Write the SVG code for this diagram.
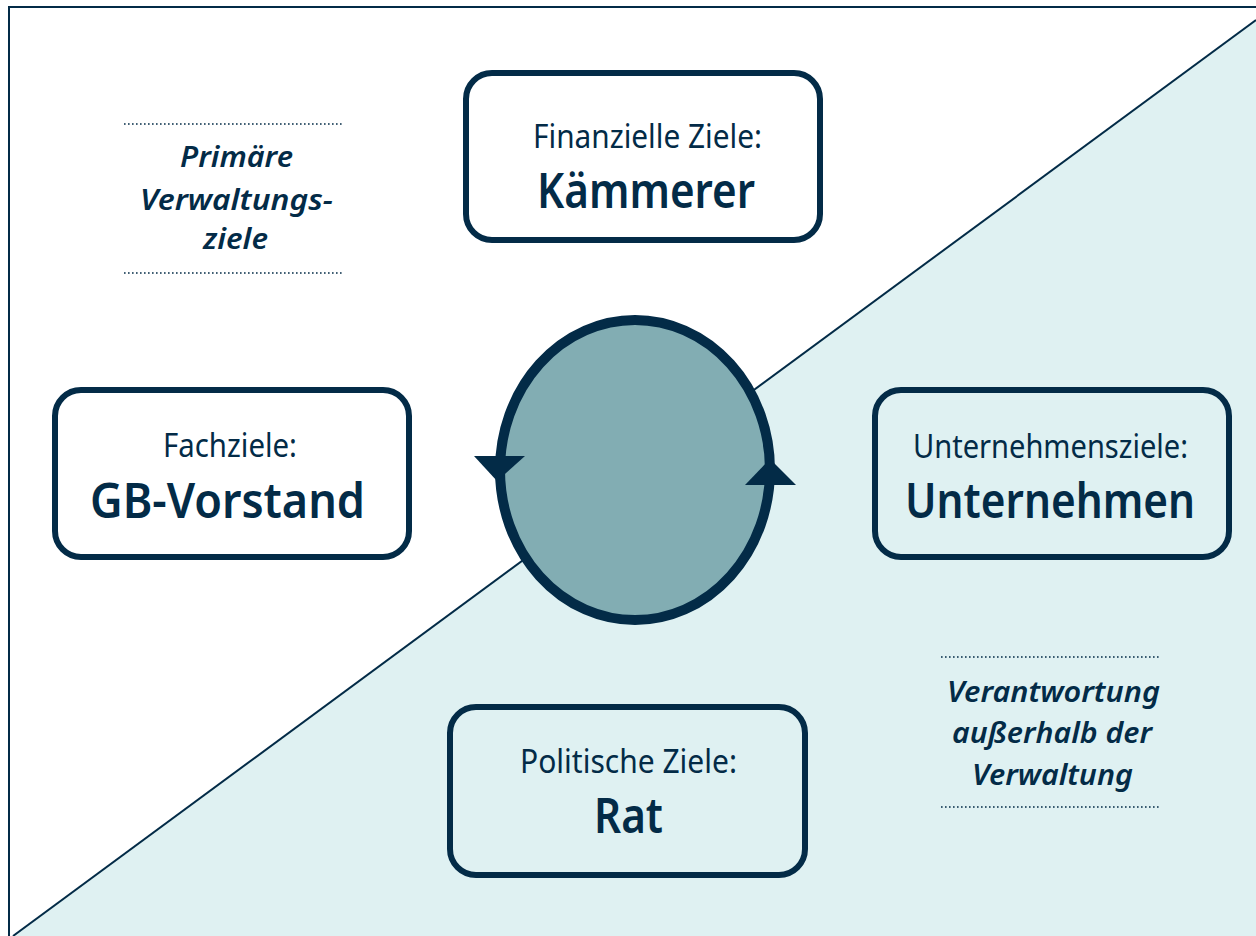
<svg xmlns="http://www.w3.org/2000/svg" width="1256" height="936" viewBox="0 0 1256 936">
  <style>
    .box { fill: none; stroke: #032b47; stroke-width: 6; }
    .sub { font-family: "Noto Sans", "Liberation Sans", sans-serif; font-size: 32px; fill: #032b47; text-anchor: middle; }
    .main { font-family: "Noto Sans", "Liberation Sans", sans-serif; font-size: 49px; font-weight: 600; fill: #032b47; text-anchor: middle; }
    .note { font-family: "Noto Sans", "Liberation Sans", sans-serif; font-size: 29px; font-weight: 600; font-style: italic; fill: #032b47; text-anchor: middle; }
    .dots { stroke: #032b47; stroke-width: 1.6; stroke-dasharray: 1.6 2.4; fill: none; }
  </style>

  <!-- background and split -->
  <rect x="0" y="0" width="1256" height="936" fill="#ffffff"/>
  <polygon points="1256,20 1256,936 13,936" fill="#dff1f2"/>
  <line x1="1256" y1="20" x2="13" y2="936" stroke="#032b47" stroke-width="2"/>
  <path d="M9,936 V7 H1256" fill="none" stroke="#032b47" stroke-width="2"/>

  <!-- area notes -->
  <g id="note-primary">
    <line class="dots" x1="124" y1="124" x2="342" y2="124"/>
    <text class="note" x="236.5" y="167" textLength="113" lengthAdjust="spacingAndGlyphs">Primäre</text>
    <text class="note" x="236.5" y="210" textLength="193" lengthAdjust="spacingAndGlyphs">Verwaltungs-</text>
    <text class="note" x="235.5" y="249" textLength="65" lengthAdjust="spacingAndGlyphs">ziele</text>
    <line class="dots" x1="124" y1="273" x2="342" y2="273"/>
  </g>
  <g id="note-external">
    <line class="dots" x1="941" y1="657" x2="1159" y2="657"/>
    <text class="note" x="1053.5" y="702" textLength="213" lengthAdjust="spacingAndGlyphs">Verantwortung</text>
    <text class="note" x="1052" y="743" textLength="200" lengthAdjust="spacingAndGlyphs">außerhalb der</text>
    <text class="note" x="1052.5" y="785" textLength="161" lengthAdjust="spacingAndGlyphs">Verwaltung</text>
    <line class="dots" x1="941" y1="807" x2="1159" y2="807"/>
  </g>

  <!-- central cycle -->
  <g id="connectors">
    <ellipse cx="635" cy="470" rx="135" ry="150" fill="#82adb3" stroke="#032b47" stroke-width="10"/>
    <polygon points="474,456 525,456 497,481" fill="#032b47"/>
    <polygon points="745,485 796,485 770,459" fill="#032b47"/>
  </g>

  <!-- nodes -->
  <g id="kaemmerer">
    <rect class="box" x="466" y="73" width="354" height="167" rx="26" style="fill:#ffffff"/>
    <text class="sub" x="647.5" y="148" textLength="229" lengthAdjust="spacingAndGlyphs">Finanzielle Ziele:</text>
    <text class="main" x="646" y="208" textLength="218" lengthAdjust="spacingAndGlyphs">Kämmerer</text>
  </g>
  <g id="gb-vorstand">
    <rect class="box" x="55" y="390" width="354" height="167" rx="26" style="fill:#ffffff"/>
    <text class="sub" x="230" y="457" textLength="134" lengthAdjust="spacingAndGlyphs">Fachziele:</text>
    <text class="main" x="227.5" y="518" textLength="275" lengthAdjust="spacingAndGlyphs">GB-Vorstand</text>
  </g>
  <g id="unternehmen">
    <rect class="box" x="875" y="390" width="354" height="167" rx="26" style="fill:#dff1f2"/>
    <text class="sub" x="1050.5" y="458" textLength="275" lengthAdjust="spacingAndGlyphs">Unternehmensziele:</text>
    <text class="main" x="1050" y="518" textLength="290" lengthAdjust="spacingAndGlyphs">Unternehmen</text>
  </g>
  <g id="rat">
    <rect class="box" x="450" y="707" width="355" height="168" rx="26" style="fill:#dff1f2"/>
    <text class="sub" x="628.5" y="773" textLength="217" lengthAdjust="spacingAndGlyphs">Politische Ziele:</text>
    <text class="main" x="628.5" y="833" textLength="69" lengthAdjust="spacingAndGlyphs">Rat</text>
  </g>
</svg>
